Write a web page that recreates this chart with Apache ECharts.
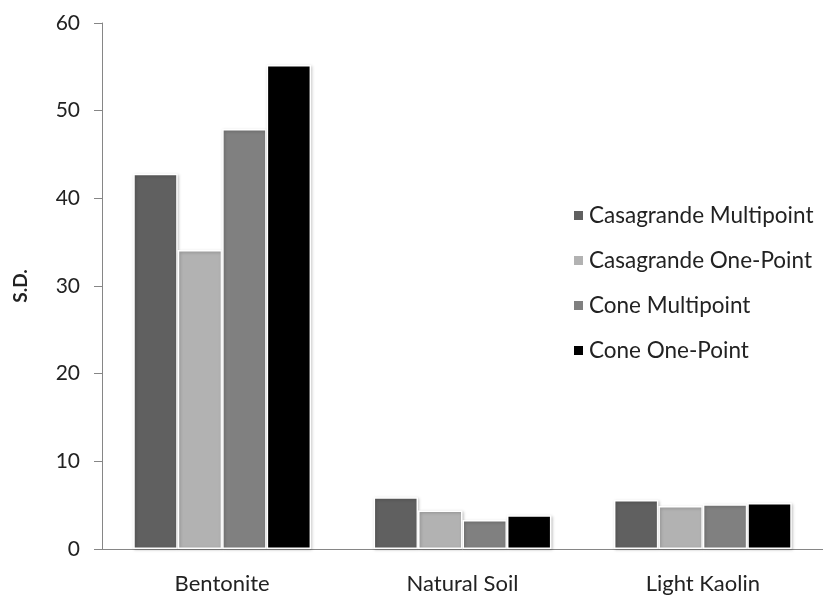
<!DOCTYPE html>
<html>
<head>
<meta charset="utf-8">
<script src="https://cdn.jsdelivr.net/npm/echarts@6/dist/echarts.min.js"></script>
<style>
  html, body { margin: 0; padding: 0; background: #fff; }
  #chart { width: 823px; height: 604px; }
</style>
</head>
<body>
<div id="chart"></div>
<script>
// soil types on the x axis
var categories = ['Bentonite', 'Natural Soil', 'Light Kaolin']
var seriesNames = ['Casagrande Multipoint', 'Casagrande One-Point', 'Cone Multipoint', 'Cone One-Point']
// S.D. per method, one value per soil
var casagrandeMulti = [42.8, 5.9, 5.6]
var casagrandeOne = [34.1, 4.4, 4.9]
var coneMulti = [47.9, 3.3, 5.1]
var coneOne = [55.2, 3.85, 5.25]
var colors = ['#606060', '#b2b2b2', '#808080', '#000000']

var font = 'Lato, "Open Sans", sans-serif'
var values = [casagrandeMulti, casagrandeOne, coneMulti, coneOne]

var chart = echarts.init(document.getElementById('chart'))

chart.setOption({
  animation: false,
  grid: {
    left: 102,
    right: -23,
    top: 23,
    bottom: 55
  },
  legend: {
    orient: 'vertical',
    left: 567,
    top: 199,
    icon: 'rect',
    itemWidth: 11,
    itemHeight: 11,
    itemGap: 22,
    itemTextGap: 8,
    data: seriesNames,
    textStyle: {
      fontFamily: font,
      fontSize: 22.5,
      lineHeight: 22,
      color: '#222'
    }
  },
  xAxis: {
    type: 'category',
    data: categories,
    axisLine: { lineStyle: { color: '#868686' } },
    axisTick: { length: 8, lineStyle: { color: '#868686' } },
    axisLabel: {
      margin: 24,
      fontFamily: font,
      fontSize: 22,
      color: '#222'
    }
  },
  yAxis: {
    type: 'value',
    min: 0,
    max: 60,
    interval: 10,
    name: 'S.D.',
    nameLocation: 'middle',
    nameGap: 72,
    nameTextStyle: {
      fontFamily: font,
      fontSize: 19,
      fontWeight: 'bold',
      color: '#222'
    },
    splitLine: { show: false },
    axisLine: { show: true, lineStyle: { color: '#868686' } },
    axisTick: { show: true, length: 8, lineStyle: { color: '#868686' } },
    axisLabel: {
      margin: 22,
      fontFamily: font,
      fontSize: 21,
      color: '#222'
    }
  },
  series: seriesNames.map(function (name, i) {
    return {
      name: name,
      type: 'bar',
      data: values[i],
      barGap: '0%',
      barCategoryGap: '26%',
      itemStyle: {
        color: colors[i],
        borderColor: '#fff',
        borderWidth: 1.5,
        shadowBlur: 3,
        shadowColor: 'rgba(0,0,0,0.25)',
        shadowOffsetX: 1,
        shadowOffsetY: 1
      }
    }
  })
})
</script>
</body>
</html>
